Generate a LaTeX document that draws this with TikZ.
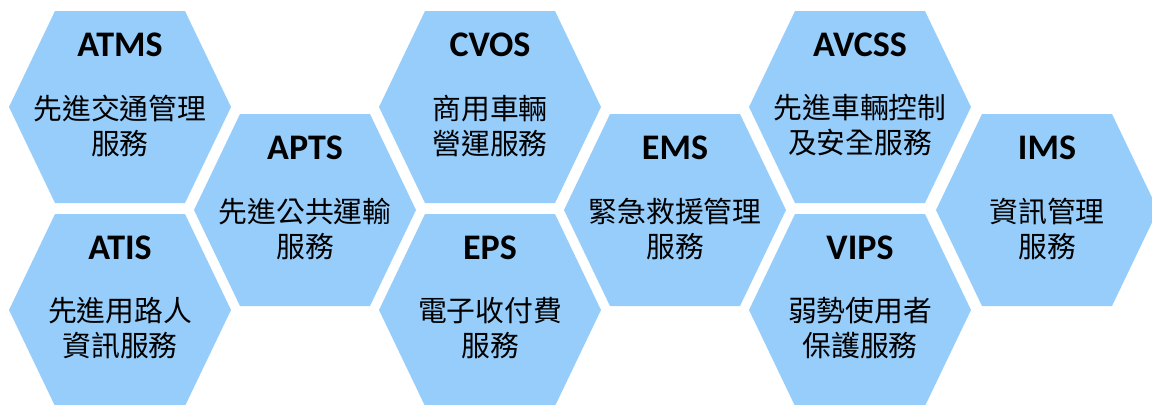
\documentclass[tikz,border=0pt]{standalone}
\usepackage{fontspec}
\setmainfont{Carlito}
\newfontfamily\cjk{Noto Sans CJK TC}
\definecolor{hexblue}{RGB}{150,205,250}

\tikzset{
    hexcell/.style={fill=hexblue, draw=none},
    celltitle/.style={inner sep=0pt, font=\fontsize{18}{21}\selectfont\bfseries},
    cellbody/.style={inner sep=0pt, align=center, font=\cjk\fontsize{14.4}{17.5}\selectfont}
}

\begin{document}
\begin{tikzpicture}[x=0.5pt, y=-0.5pt]
    % Frame of the picture
    \useasboundingbox (0,0) rectangle (1152,404);
    \clip (0,0) rectangle (1152,404);

    % Hexagon cells: centre x / centre y / name / title / text
    \foreach \x/\y/\name/\title/\body in {
        120/107/atms/ATMS/{先進交通管理\\服務},
        120/310/atis/ATIS/{先進用路人\\資訊服務},
        305/210/apts/APTS/{先進公共運輸\\服務},
        490/107/cvos/CVOS/{商用車輛\\營運服務},
        490/310/eps/EPS/{電子收付費\\服務},
        675/210/ems/EMS/{緊急救援管理\\服務},
        860/107/avcss/AVCSS/{先進車輛控制\\及安全服務},
        860/310/vips/VIPS/{弱勢使用者\\保護服務},
        1047/210/ims/IMS/{資訊管理\\服務}}
    {
        \fill[hexcell, shift={(\x,\y)}] (-111,0) -- (-65,-96) -- (65,-96)
            -- (111,0) -- (65,96) -- (-65,96) -- cycle;
        \node[celltitle] (\name-title) at (\x,\y-62) {\title};
        \node[cellbody] (\name-body) at (\x,\y+18.5) {\body};
    }
\end{tikzpicture}
\end{document}
